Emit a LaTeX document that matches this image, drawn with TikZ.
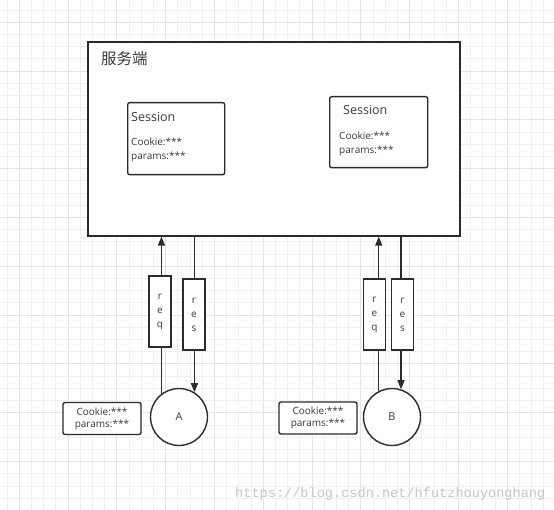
\documentclass[tikz,border=0pt]{standalone}
\usepackage{fontspec}
\setmainfont{Open Sans}
\newfontfamily\cjk{Noto Sans CJK SC}
\newfontfamily\wmfont{Liberation Mono}
\usetikzlibrary{arrows.meta}
\definecolor{ink}{HTML}{2B2B2B}
\definecolor{txtc}{HTML}{3A3A3A}
\definecolor{gridthin}{HTML}{F0F0F0}
\definecolor{gridbold}{HTML}{E4E4E4}
\tikzset{
  box/.style={draw=ink, line width=1.6pt, inner sep=0pt, fill=white},
  sessbox/.style={draw=ink, line width=1.4pt, rounded corners=2pt, inner sep=0pt, fill=white},
  tagbox/.style={draw=ink, line width=1.2pt, inner sep=0pt, fill=white, minimum width=22pt, minimum height=71pt, font=\fontsize{10}{14}\selectfont, text=txtc, align=center},
  client/.style={circle, draw=ink, line width=1.4pt, inner sep=0pt, minimum size=57pt, fill=white, font=\fontsize{11}{13}\selectfont, text=txtc},
  info/.style={sessbox, minimum width=78pt, minimum height=32pt, align=center, font=\fontsize{10}{12}\selectfont, text=txtc},
  txt/.style={inner sep=0pt, anchor=west, text=txtc, align=left},
  arr/.style={draw=ink, line width=1.4pt, -{Triangle[length=9pt,width=7pt]}},
}
\begin{document}
\begin{tikzpicture}[x=1pt,y=-1pt]
\useasboundingbox (0,0) rectangle (554,510);
\fill[white] (0,0) rectangle (554,510);
% grid
\foreach \i in {0,...,45} {
  \pgfmathsetmacro\gx{6.9+12.2*\i}
  \pgfmathtruncatemacro\m{mod(\i,4)}
  \ifnum\m=1 \draw[gridbold, line width=0.8pt] (\gx,0) -- (\gx,510);
  \else \draw[gridthin, line width=0.8pt] (\gx,0) -- (\gx,510); \fi
}
\foreach \i in {0,...,41} {
  \pgfmathsetmacro\gy{10.1+12.2*\i}
  \pgfmathtruncatemacro\m{mod(\i,4)}
  \ifnum\m=1 \draw[gridbold, line width=0.8pt] (0,\gy) -- (554,\gy);
  \else \draw[gridthin, line width=0.8pt] (0,\gy) -- (554,\gy); \fi
}
% server
\node[box, minimum width=372pt, minimum height=194pt, anchor=north west] (server) at (87,41) {};
\node[txt, font=\cjk\fontsize{15.5}{17}\selectfont] (title) at (101,59) {服务端};
% sessions
\node[sessbox, minimum width=97pt, minimum height=72pt, anchor=north west] (s1) at (127,102) {};
\node[txt, font=\fontsize{12.5}{14}\selectfont] (s1t) at (131,117) {Session};
\node[txt, font=\fontsize{10}{13.5}\selectfont, anchor=north west] (s1c) at (131,138) {Cookie:***\\params:***};
\node[sessbox, minimum width=98pt, minimum height=71pt, anchor=north west] (s2) at (329,96) {};
\node[txt, font=\fontsize{12.5}{14}\selectfont] (s2t) at (343,110) {Session};
\node[txt, font=\fontsize{10}{13.5}\selectfont, anchor=north west] (s2c) at (339,132) {Cookie:***\\params:***};
% clients
\node[client] (A) at (179,417) {A};
\node[client] (B) at (392,417) {B};
\node[info] (ia) at (102,418.5) {Cookie:***\\params:***};
\node[info] (ib) at (318,418) {Cookie:***\\params:***};
% connectors
\draw[arr] (A.127) -- (A.127 |- server.south);
\draw[arr] (A.58 |- server.south) -- (A.58);
\draw[arr] (B.117) -- (B.117 |- server.south);
\draw[arr] (B.72 |- server.south) -- (B.72);
% tags
\node[tagbox] (reqA) at (160,311.5) {r\\e\\q};
\node[tagbox] (resA) at (194,314.5) {r\\e\\s};
\node[tagbox] (reqB) at (374.5,314.5) {r\\e\\q};
\node[tagbox] (resB) at (402.5,314.5) {r\\e\\s};
% watermark
\node[inner sep=0pt, anchor=west, text=gray!45, font=\wmfont\fontsize{13.6}{15}\selectfont] (wm) at (235,494) {https://blog.csdn.net/hfutzhouyonghang};
\end{tikzpicture}
\end{document}
